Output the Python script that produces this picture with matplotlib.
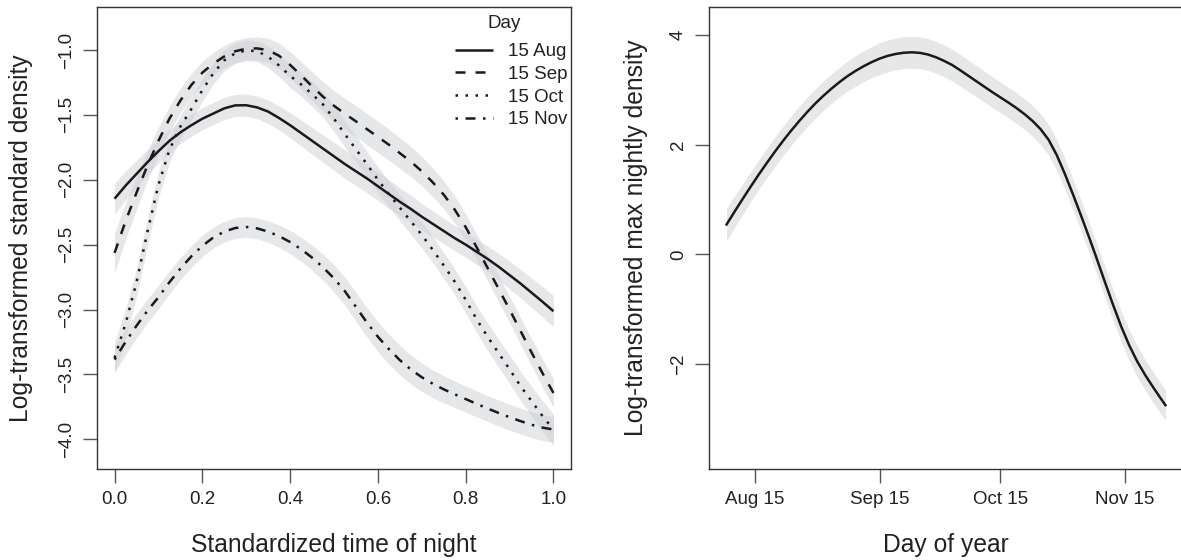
import matplotlib
matplotlib.use("Agg")
import matplotlib.pyplot as plt

plt.rcParams['font.family'] = ['Liberation Sans', 'DejaVu Sans']

# ---------------- Left panel data ----------------
time_x = [0.000, 0.025, 0.050, 0.075, 0.100, 0.125, 0.150, 0.175, 0.200, 0.225,
          0.250, 0.275, 0.300, 0.325, 0.350, 0.375, 0.400, 0.425, 0.450, 0.475,
          0.500, 0.525, 0.550, 0.575, 0.600, 0.625, 0.650, 0.675, 0.700, 0.725,
          0.750, 0.775, 0.800, 0.825, 0.850, 0.875, 0.900, 0.925, 0.950, 0.975, 1.000]

aug_fit = [-2.146, -2.046, -1.955, -1.865, -1.780, -1.700, -1.635, -1.580, -1.530, -1.490,
           -1.450, -1.427, -1.426, -1.443, -1.475, -1.525, -1.580, -1.640, -1.700, -1.760,
           -1.820, -1.880, -1.935, -1.990, -2.050, -2.110, -2.170, -2.225, -2.285, -2.340,
           -2.395, -2.450, -2.500, -2.555, -2.610, -2.670, -2.735, -2.800, -2.870, -2.940, -3.013]
aug_se = [0.120, 0.112, 0.105, 0.098, 0.093, 0.090, 0.088, 0.086, 0.085, 0.085,
          0.085, 0.085, 0.086, 0.088, 0.090, 0.093, 0.096, 0.100, 0.103, 0.106,
          0.108, 0.110, 0.110, 0.110, 0.110, 0.110, 0.108, 0.105, 0.102, 0.100,
          0.098, 0.097, 0.097, 0.098, 0.100, 0.103, 0.106, 0.110, 0.113, 0.117, 0.120]

sep_fit = [-2.564, -2.320, -2.100, -1.890, -1.700, -1.530, -1.390, -1.270, -1.175, -1.105,
           -1.050, -1.010, -0.990, -0.988, -1.002, -1.045, -1.115, -1.195, -1.280, -1.360,
           -1.430, -1.492, -1.550, -1.610, -1.670, -1.730, -1.795, -1.860, -1.935, -2.020,
           -2.115, -2.230, -2.365, -2.520, -2.680, -2.840, -3.000, -3.165, -3.330, -3.490, -3.643]
sep_se = [0.155, 0.140, 0.127, 0.115, 0.105, 0.098, 0.093, 0.090, 0.088, 0.086,
          0.085, 0.085, 0.086, 0.088, 0.092, 0.097, 0.102, 0.107, 0.111, 0.114,
          0.117, 0.119, 0.120, 0.120, 0.120, 0.120, 0.118, 0.116, 0.113, 0.110,
          0.107, 0.104, 0.102, 0.100, 0.100, 0.100, 0.101, 0.103, 0.105, 0.108, 0.110]

oct_fit = [-3.373, -3.110, -2.790, -2.400, -2.040, -1.770, -1.590, -1.455, -1.310, -1.180,
           -1.080, -1.025, -1.003, -1.010, -1.052, -1.120, -1.200, -1.265, -1.340, -1.420,
           -1.530, -1.650, -1.765, -1.880, -2.000, -2.110, -2.215, -2.320, -2.425, -2.540,
           -2.660, -2.785, -2.925, -3.075, -3.210, -3.335, -3.460, -3.590, -3.705, -3.820, -3.925]
oct_se = [0.120, 0.115, 0.110, 0.105, 0.100, 0.096, 0.092, 0.089, 0.086, 0.083,
          0.081, 0.080, 0.080, 0.081, 0.083, 0.086, 0.089, 0.092, 0.095, 0.098,
          0.100, 0.100, 0.100, 0.100, 0.100, 0.100, 0.100, 0.100, 0.100, 0.100,
          0.100, 0.101, 0.102, 0.104, 0.106, 0.108, 0.110, 0.112, 0.115, 0.117, 0.120]

nov_fit = [-3.386, -3.250, -3.125, -3.010, -2.905, -2.790, -2.685, -2.590, -2.510, -2.445,
           -2.400, -2.372, -2.364, -2.375, -2.400, -2.435, -2.480, -2.535, -2.600, -2.675,
           -2.760, -2.860, -2.980, -3.100, -3.210, -3.305, -3.390, -3.462, -3.522, -3.572,
           -3.615, -3.653, -3.690, -3.727, -3.763, -3.797, -3.830, -3.860, -3.888, -3.910, -3.925]
nov_se = [0.100, 0.097, 0.094, 0.092, 0.090, 0.088, 0.086, 0.084, 0.082, 0.081,
          0.080, 0.080, 0.080, 0.081, 0.083, 0.086, 0.089, 0.093, 0.097, 0.101,
          0.105, 0.108, 0.111, 0.113, 0.115, 0.115, 0.114, 0.112, 0.110, 0.107,
          0.105, 0.103, 0.101, 0.100, 0.100, 0.100, 0.100, 0.100, 0.100, 0.100, 0.100]

day_labels = ["15 Aug", "15 Sep", "15 Oct", "15 Nov"]
legend_title = "Day"

# ---------------- Right panel data ----------------
doy = [220, 222, 224, 226, 228, 230, 232, 234, 236, 238, 240, 242, 244, 246, 248, 250,
       252, 254, 256, 258, 260, 262, 264, 266, 268, 270, 272, 274, 276, 278, 280, 282,
       284, 286, 288, 290, 292, 294, 296, 298, 300, 302, 304, 306, 308, 310, 312, 314,
       316, 318, 320, 322, 324, 326, 328, 329]
max_fit = [0.545, 0.780, 1.010, 1.235, 1.455, 1.665, 1.870, 2.065, 2.250, 2.425, 2.590, 2.745,
           2.885, 3.015, 3.135, 3.245, 3.340, 3.425, 3.500, 3.565, 3.615, 3.650, 3.672, 3.680,
           3.670, 3.640, 3.590, 3.525, 3.450, 3.355, 3.255, 3.155, 3.055, 2.955, 2.860, 2.765,
           2.665, 2.555, 2.430, 2.280, 2.085, 1.810, 1.470, 1.100, 0.715, 0.320, -0.090, -0.510,
           -0.920, -1.310, -1.655, -1.950, -2.200, -2.425, -2.640, -2.745]
max_se = [0.300, 0.290, 0.280,
          0.270, 0.270, 0.270, 0.270, 0.270, 0.270, 0.270, 0.270, 0.270, 0.270, 0.270, 0.270, 0.270,
          0.280, 0.280, 0.285, 0.290, 0.290, 0.290, 0.290, 0.290, 0.290, 0.290, 0.290, 0.290, 0.290,
          0.290, 0.285, 0.285,
          0.280, 0.280, 0.280, 0.280, 0.280, 0.280, 0.280, 0.280, 0.280, 0.280, 0.280, 0.280,
          0.280, 0.280, 0.280, 0.280, 0.280, 0.280, 0.280, 0.280, 0.280, 0.280, 0.280, 0.280]

month_ticks = [227, 258, 288, 319]
month_labels = ["Aug 15", "Sep 15", "Oct 15", "Nov 15"]

# ---------------- Figure ----------------
W, H = 1181, 560
fig = plt.figure(figsize=(W / 100, H / 100), dpi=100)

def px_axes(x0, x1, ytop, ybot):
    return fig.add_axes([x0 / W, (H - ybot) / H, (x1 - x0) / W, (ybot - ytop) / H])

ax1 = px_axes(97, 571, 7, 469)
ax2 = px_axes(709, 1183, 7, 469)

band_col = '#CED0D4'
line_col = '#1a1a1a'
frame_col = '#333333'
txt_col = '#222222'
lw = 1.8
fs_tick = 13.5
fs_lab = 17.7

styles = ['-', (0, (4, 4)), (0, (1, 3)), (0, (1, 3, 4, 3))]
fits = [aug_fit, sep_fit, oct_fit, nov_fit]
ses = [aug_se, sep_se, oct_se, nov_se]

for f, s in zip(fits, ses):
    lo = [a - b for a, b in zip(f, s)]
    hi = [a + b for a, b in zip(f, s)]
    ax1.fill_between(time_x, lo, hi, color=band_col, alpha=0.5, lw=0)
handles = []
for f, ls, lab in zip(fits, styles, day_labels):
    ln, = ax1.plot(time_x, f, color=line_col, lw=lw, linestyle=ls,
                   solid_capstyle='butt', dash_capstyle='butt', label=lab)
    handles.append(ln)

ax1.set_xlim(-0.04, 1.04)
ax1.set_ylim(-4.229, -0.669)
ax1.set_xticks([0.0, 0.2, 0.4, 0.6, 0.8, 1.0])
ax1.set_xticklabels(["0.0", "0.2", "0.4", "0.6", "0.8", "1.0"])
ax1.set_yticks([-1.0, -1.5, -2.0, -2.5, -3.0, -3.5, -4.0])
ax1.set_yticklabels(["\u22121.0", "\u22121.5", "\u22122.0", "\u22122.5", "\u22123.0",
                     "\u22123.5", "\u22124.0"])
ax1.set_xlabel("Standardized time of night", fontsize=fs_lab, labelpad=18, color=txt_col)
ax1.set_ylabel("Log-transformed standard density", fontsize=fs_lab, labelpad=18, color=txt_col)

leg = ax1.legend(handles=handles, labels=day_labels, frameon=False,
                 loc='upper right', bbox_to_anchor=(0.992, 0.922), borderpad=0,
                 fontsize=fs_tick, handlelength=2.0,
                 handletextpad=0.8, labelspacing=0.3, borderaxespad=0)
for t in leg.get_texts():
    t.set_color(txt_col)
ax1.text(0.859, 0.965, legend_title, transform=ax1.transAxes, ha='center', va='center',
         fontsize=fs_tick, color=txt_col)

# right panel
lo = [a - b for a, b in zip(max_fit, max_se)]
hi = [a + b for a, b in zip(max_fit, max_se)]
ax2.fill_between(doy, lo, hi, color=band_col, alpha=0.5, lw=0)
ax2.plot(doy, max_fit, color=line_col, lw=lw)
ax2.set_xlim(215.64, 333.36)
ax2.set_ylim(-3.907, 4.505)
ax2.set_xticks(month_ticks)
ax2.set_xticklabels(month_labels)
ax2.set_yticks([-2, 0, 2, 4])
ax2.set_yticklabels(["\u22122", "0", "2", "4"])
ax2.set_xlabel("Day of year", fontsize=fs_lab, labelpad=18, color=txt_col)
ax2.set_ylabel("Log-transformed max nightly density", fontsize=fs_lab, labelpad=16, color=txt_col)

for ax in (ax1, ax2):
    for sp in ax.spines.values():
        sp.set_color(frame_col)
        sp.set_linewidth(1.0)
    ax.tick_params(axis='both', direction='out', length=10, width=1.0, color='#555555',
                   labelsize=fs_tick, labelcolor=txt_col, pad=6)
    ax.tick_params(axis='y', labelrotation=90, pad=6)
    for lab in ax.get_yticklabels():
        lab.set_va('center')

fig.savefig("out.png", dpi=100)
